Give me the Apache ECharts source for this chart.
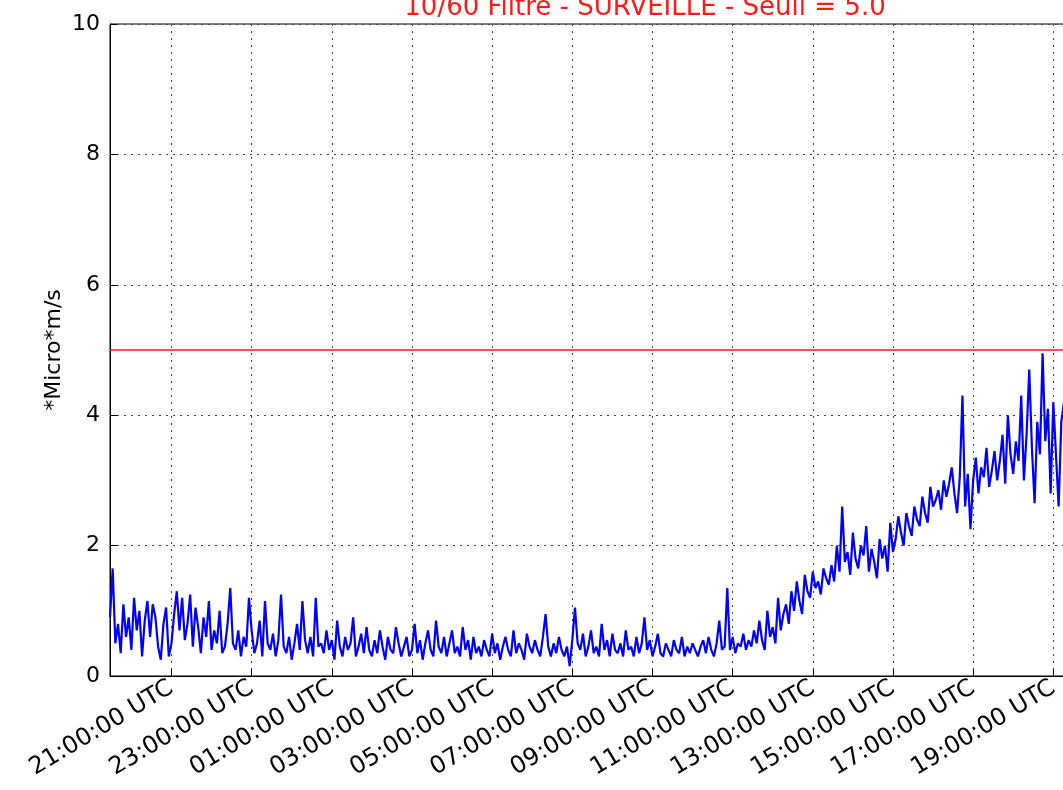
<!DOCTYPE html>
<html>
<head>
<meta charset="utf-8">
<title>10/60 Filtre - SURVEILLE</title>
<script src="https://cdn.jsdelivr.net/npm/echarts@6/dist/echarts.min.js"></script>
<style>
  html, body { margin: 0; padding: 0; background: #fff; overflow: hidden; }
  #main { width: 1080px; height: 790px; }
</style>
</head>
<body>
<div id="main"></div>
<script>
// titre et seuil
var TITRE = '10/60 Filtre - SURVEILLE - Seuil = 5.0';
var SEUIL = 5.0;
var UNITE = '*Micro*m/s';

// axe temps : un point toutes les 4 minutes, depuis 19:28 UTC
var DEBUT_MIN = 19 * 60 + 28;
var PAS_MIN = 4;

// etiquettes affichees sur l'axe x
var ETIQUETTES = ['21:00:00 UTC', '23:00:00 UTC', '01:00:00 UTC', '03:00:00 UTC',
    '05:00:00 UTC', '07:00:00 UTC', '09:00:00 UTC', '11:00:00 UTC',
    '13:00:00 UTC', '15:00:00 UTC', '17:00:00 UTC', '19:00:00 UTC'];

// graduations axe y
var Y_MIN = 0, Y_MAX = 10, Y_PAS = 2;

// valeurs (*Micro*m/s)
var valeurs = [
    0.9, 1.65, 0.5, 0.8, 0.35, 1.1, 0.6, 0.9, 0.4, 1.2,
    0.7, 1.0, 0.3, 0.85, 1.15, 0.6, 1.1, 0.9, 0.45, 0.25,
    0.8, 1.05, 0.3, 0.5, 0.95, 1.3, 0.7, 1.2, 0.55, 0.8,
    1.25, 0.45, 1.05, 0.75, 0.35, 0.9, 0.6, 1.15, 0.4, 0.7,
    0.5, 1.0, 0.35, 0.45, 0.8, 1.35, 0.5, 0.4, 0.7, 0.3,
    0.6, 0.45, 1.2, 0.7, 0.35, 0.5, 0.85, 0.3, 1.15, 0.5,
    0.4, 0.65, 0.3, 0.55, 1.25, 0.45, 0.35, 0.6, 0.25, 0.5,
    0.8, 0.4, 1.15, 0.55, 0.35, 0.6, 0.3, 1.2, 0.45, 0.5,
    0.35, 0.7, 0.4, 0.55, 0.25, 0.85, 0.45, 0.3, 0.6, 0.4,
    0.5, 0.9, 0.3, 0.45, 0.65, 0.35, 0.75, 0.4, 0.3, 0.55,
    0.35, 0.7, 0.45, 0.25, 0.6, 0.4, 0.35, 0.75, 0.5, 0.3,
    0.45, 0.6, 0.3, 0.4, 0.8, 0.35, 0.55, 0.25, 0.5, 0.7,
    0.4, 0.3, 0.85, 0.45, 0.35, 0.6, 0.3, 0.5, 0.7, 0.35,
    0.45, 0.3, 0.75, 0.4, 0.55, 0.25, 0.6, 0.35, 0.45, 0.3,
    0.55, 0.4, 0.3, 0.65, 0.35, 0.5, 0.25, 0.45, 0.6, 0.4,
    0.3, 0.7, 0.35, 0.5, 0.4, 0.25, 0.65, 0.45, 0.35, 0.55,
    0.4, 0.3, 0.6, 0.95, 0.45, 0.3, 0.5, 0.35, 0.6, 0.4,
    0.3, 0.45, 0.15, 0.55, 1.05, 0.5, 0.4, 0.65, 0.3, 0.45,
    0.7, 0.35, 0.45, 0.3, 0.8, 0.4, 0.55, 0.3, 0.65, 0.4,
    0.35, 0.5, 0.3, 0.7, 0.4, 0.45, 0.3, 0.6, 0.35, 0.5,
    0.9, 0.4, 0.55, 0.3, 0.45, 0.65, 0.35, 0.3, 0.5, 0.4,
    0.3, 0.55, 0.4, 0.35, 0.6, 0.3, 0.45, 0.35, 0.5, 0.4,
    0.3, 0.45, 0.55, 0.35, 0.6, 0.4, 0.3, 0.5, 0.85, 0.4,
    0.45, 1.35, 0.4, 0.6, 0.35, 0.5, 0.45, 0.65, 0.4, 0.55,
    0.45, 0.7, 0.5, 0.85, 0.55, 0.4, 1.0, 0.6, 0.75, 0.5,
    1.2, 0.7, 0.95, 1.1, 0.8, 1.3, 1.0, 1.45, 1.15, 0.95,
    1.55, 1.3, 1.2, 1.6, 1.35, 1.45, 1.25, 1.65, 1.5, 1.4,
    1.7, 1.45, 2.0, 1.6, 2.6, 1.75, 1.9, 1.55, 2.2, 1.8,
    1.65, 2.0, 1.85, 2.3, 1.6, 1.95, 1.75, 1.5, 2.1, 1.8,
    2.0, 1.6, 2.35, 1.9, 2.1, 2.45, 2.2, 2.0, 2.5, 2.3,
    2.15, 2.6, 2.4, 2.3, 2.75, 2.5, 2.35, 2.9, 2.6, 2.7,
    2.85, 2.55, 3.0, 2.75, 2.95, 3.2, 2.8, 2.5, 3.05, 4.3,
    2.6, 3.1, 2.25, 3.0, 3.35, 2.8, 3.2, 3.05, 3.5, 2.9,
    3.15, 3.45, 3.0, 3.3, 3.7, 2.95, 4.0, 3.4, 3.1, 3.6,
    3.3, 4.3, 3.0, 3.7, 4.7, 3.5, 2.65, 3.9, 3.4, 4.95,
    3.6, 4.1, 2.8, 4.2, 3.4, 2.6, 3.9, 4.2, 3.3, 3.8, 3.5
];

// construction des categories horaires
function deuxChiffres(n) { return (n < 10 ? '0' : '') + n; }
var heures = [];
for (var i = 0; i < valeurs.length; i++) {
    var m = (DEBUT_MIN + i * PAS_MIN) % (24 * 60);
    heures.push(deuxChiffres(Math.floor(m / 60)) + ':' + deuxChiffres(m % 60) + ':00 UTC');
}
function estEtiquette(index) {
    return ETIQUETTES.indexOf(heures[index]) >= 0;
}

var police = 'DejaVu Sans';
var myChart = echarts.init(document.getElementById('main'));
var option = {
    animation: false,
    backgroundColor: '#ffffff',
    title: {
        text: TITRE,
        left: 640,
        textAlign: 'center',
        top: -10,
        textStyle: { color: '#ff1a1a', fontSize: 26, fontWeight: 'normal', fontFamily: police }
    },
    // le cadre depasse a droite de la fenetre (1063 px), comme sur l'image d'origine
    grid: {
        left: 110, right: 8, top: 24, bottom: 114,
        show: true, borderColor: '#000', borderWidth: 1
    },
    xAxis: {
        type: 'category',
        data: heures,
        boundaryGap: false,
        axisLine: { lineStyle: { color: '#000', width: 1 } },
        axisTick: { inside: true, length: 7, interval: estEtiquette, lineStyle: { color: '#000' } },
        axisLabel: {
            interval: estEtiquette,
            rotate: 31,
            margin: 10,
            color: '#000',
            fontSize: 24,
            fontFamily: police
        },
        splitLine: {
            show: true,
            interval: estEtiquette,
            lineStyle: { color: '#444', type: [2, 5], width: 1 }
        }
    },
    yAxis: {
        type: 'value',
        min: Y_MIN, max: Y_MAX, interval: Y_PAS,
        name: UNITE,
        nameLocation: 'middle',
        nameRotate: 90,
        nameGap: 45,
        nameMoveOverlap: false,
        nameTextStyle: { color: '#000', fontSize: 22, fontFamily: police },
        axisLine: { show: true, lineStyle: { color: '#000', width: 1 } },
        axisTick: { show: true, inside: true, length: 7, lineStyle: { color: '#000' } },
        axisLabel: { color: '#000', fontSize: 22, margin: 10, fontFamily: police },
        splitLine: { show: true, lineStyle: { color: '#444', type: [2, 5], width: 1 } }
    },
    series: [
        {
            name: UNITE,
            type: 'line',
            data: valeurs,
            showSymbol: false,
            lineStyle: { color: '#0000ff', width: 2.2 },
            itemStyle: { color: '#0000ff' },
            z: 3,
            markLine: {
                silent: true,
                symbol: ['none', 'none'],
                label: { show: false },
                lineStyle: { color: '#ff1a1a', type: 'solid', width: 1.5 },
                data: [{ yAxis: SEUIL }],
                z: 2
            }
        }
    ]
};
myChart.setOption(option);
</script>
</body>
</html>
